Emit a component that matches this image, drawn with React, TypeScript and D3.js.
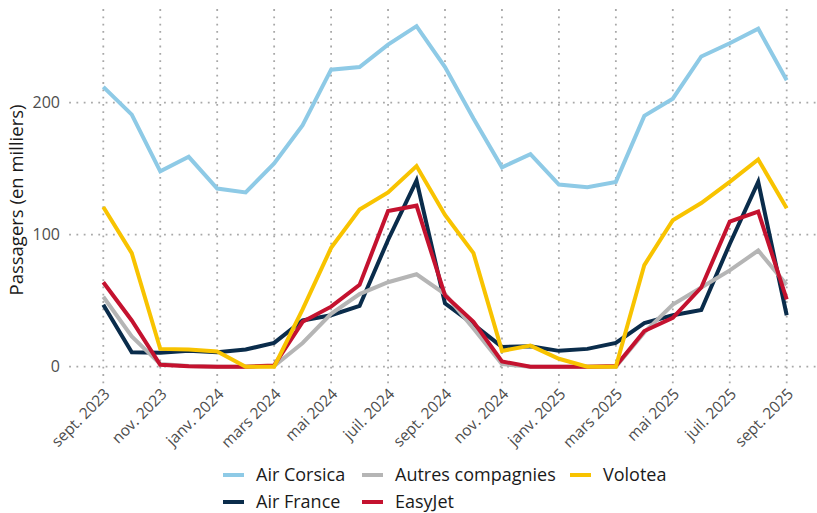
import React from "react";
import * as d3 from "d3";

const months = [
  "sept. 2023","oct. 2023","nov. 2023","déc. 2023","janv. 2024","févr. 2024","mars 2024",
  "avr. 2024","mai 2024","juin 2024","juil. 2024","août 2024","sept. 2024","oct. 2024",
  "nov. 2024","déc. 2024","janv. 2025","févr. 2025","mars 2025","avr. 2025","mai 2025",
  "juin 2025","juil. 2025","août 2025","sept. 2025",
];
const tickLabels = [
  "sept. 2023","nov. 2023","janv. 2024","mars 2024","mai 2024","juil. 2024","sept. 2024",
  "nov. 2024","janv. 2025","mars 2025","mai 2025","juil. 2025","sept. 2025",
];
const yTicks = [0, 100, 200];

const airCorsica = [212, 191, 148, 159, 135, 132, 154, 183, 225, 227, 244, 258, 227, 188, 151, 161, 138, 136, 140, 190, 203, 235, 245, 256, 217];
const airFrance = [47, 11, 10.5, 12, 11, 13, 18, 35, 39, 46, 96, 141, 48, 32, 15, 15.5, 12, 13.5, 18, 33, 39, 43, 93, 140, 39];
const autres = [53, 23, 2, 0.5, 0, 0, 0.5, 18, 40, 55, 64, 70, 55, 29, 2, 0, 0, 0, 0, 26, 47, 60, 73, 88, 62];
const easyJet = [64, 35, 1.5, 0.3, 0, 0, 1, 34, 45.5, 62, 118, 122, 54, 34, 4, 0, 0, 0, 0.5, 27, 37, 60, 110, 117.5, 51];
const volotea = [121, 86, 13.5, 13, 11.5, 0, 0, 43.5, 90, 119, 132, 152, 115, 86, 12, 16, 6, 0, 0, 77, 111, 124, 140, 157, 120];

const seriesNames = ["Air Corsica", "Air France", "Autres compagnies", "EasyJet", "Volotea"];
const seriesValues = [airCorsica, airFrance, autres, easyJet, volotea];
const seriesColors = ["#8ECAE6", "#0A2C4B", "#B5B5B5", "#C4122F", "#F8C300"];

const FONT = "'Open Sans', sans-serif";

export default function App() {
  const W = 817, H = 513;
  const x = d3.scaleLinear().domain([0, months.length - 1]).range([103.3, 786.7]);
  const y = d3.scaleLinear().domain([0, 200]).range([366.7, 102.7]);
  const yMin = y(-12.9), yMax = y(270.9);
  const xMin = x(-1.2), xMax = Math.min(W, x(25.2));
  const line = d3.line<number>().x((_, i) => x(i)).y((d) => y(d));
  const tickIdx = tickLabels.map((t) => months.indexOf(t));

  const legendItems = [
    { i: 0, sx: 223, tx: 256, ty: 475 },
    { i: 2, sx: 362, tx: 395, ty: 475 },
    { i: 4, sx: 570, tx: 603, ty: 475 },
    { i: 1, sx: 223, tx: 256, ty: 502 },
    { i: 3, sx: 362, tx: 395, ty: 502 },
  ];

  return (
    <svg width={W} height={H} style={{ position: "absolute", left: 0, top: 0, background: "#fff" }} fontFamily={FONT}>
      {/* grid */}
      {yTicks.map((t) => (
        <line key={"h" + t} x1={xMin} x2={xMax} y1={y(t)} y2={y(t)} stroke="#A8A8A8" strokeWidth={1.8} strokeDasharray="1.8 5.5" />
      ))}
      {tickIdx.map((i) => (
        <line key={"v" + i} x1={x(i)} x2={x(i)} y1={yMax} y2={yMin} stroke="#A8A8A8" strokeWidth={1.8} strokeDasharray="1.8 5.5" />
      ))}
      {/* lines */}
      {seriesValues.map((vals, k) => (
        <path key={seriesNames[k]} d={line(vals) || ""} fill="none" stroke={seriesColors[k]} strokeWidth={4} strokeLinejoin="miter" strokeLinecap="butt" />
      ))}
      {/* y ticks */}
      {yTicks.map((t) => (
        <text key={"yl" + t} x={60} y={y(t)} dy="0.35em" textAnchor="end" fontSize={16} fill="#4D4D4D">{t}</text>
      ))}
      {/* x ticks */}
      {tickIdx.map((i, k) => (
        <text key={"xl" + i} transform={`translate(${x(i) + 7.5},${395}) rotate(-45)`} textAnchor="end" fontSize={15.5} fill="#4D4D4D">{tickLabels[k]}</text>
      ))}
      {/* y title */}
      <text transform={`translate(23,200) rotate(-90)`} textAnchor="middle" fontSize={18.5} fill="#1a1a1a">Passagers (en milliers)</text>
      {/* legend */}
      {legendItems.map((it) => (
        <g key={"lg" + it.i}>
          <line x1={it.sx} x2={it.sx + 21} y1={it.ty} y2={it.ty} stroke={seriesColors[it.i]} strokeWidth={4} />
          <text x={it.tx} y={it.ty} dy="0.35em" fontSize={18} fill="#1a1a1a">{seriesNames[it.i]}</text>
        </g>
      ))}
    </svg>
  );
}
